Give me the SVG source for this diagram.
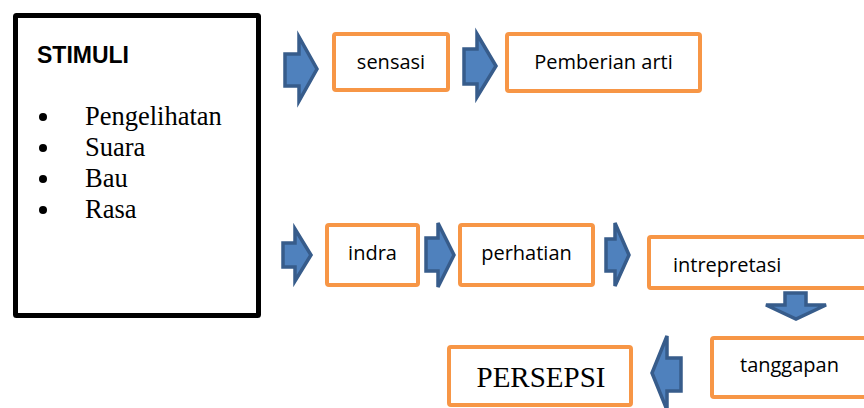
<svg xmlns="http://www.w3.org/2000/svg" width="864" height="408" viewBox="0 0 864 408">
<style>
.box{fill:#fff;stroke:#F79646;stroke-width:4}
.arr{fill:#4F81BD;stroke:#375C8B;stroke-width:3.5;stroke-linejoin:miter}
.sans{font-family:"Open Sans","Liberation Sans",sans-serif;font-size:20px;fill:#000}
.serif{font-family:"Liberation Serif","Times New Roman",serif;fill:#000}
</style>
<rect width="864" height="408" fill="#fff"/>
<g id="stimuli">
<rect x="15.5" y="15.5" width="243" height="300" fill="#fff" stroke="#000" stroke-width="5" rx="1"/>
<text x="37" y="63" font-family="Liberation Sans, Arial, sans-serif" font-weight="bold" font-size="23">STIMULI</text>
<g class="serif" font-size="26.5">
<circle cx="43" cy="117" r="4"/><text x="85" y="125">Pengelihatan</text>
<circle cx="43" cy="148" r="4"/><text x="85" y="156">Suara</text>
<circle cx="43" cy="179" r="4"/><text x="85" y="187">Bau</text>
<circle cx="43" cy="210" r="4"/><text x="85" y="218">Rasa</text>
</g>
</g>
<g id="sensasi"><rect class="box" x="334" y="34" width="114" height="56" rx="2"/><text class="sans" x="391" y="69" text-anchor="middle">sensasi</text></g>
<g id="pemberian-arti"><rect class="box" x="507" y="34" width="193" height="57" rx="2"/><text class="sans" x="603.5" y="69" text-anchor="middle">Pemberian arti</text></g>
<g id="indra"><rect class="box" x="327" y="225" width="91" height="60" rx="2"/><text class="sans" x="372.5" y="260" text-anchor="middle">indra</text></g>
<g id="perhatian"><rect class="box" x="460" y="225" width="133" height="60" rx="2"/><text class="sans" x="526.5" y="260" text-anchor="middle">perhatian</text></g>
<g id="intrepretasi"><rect class="box" x="649" y="237" width="230" height="51" rx="2"/><text class="sans" x="673" y="272">intrepretasi</text></g>
<g id="tanggapan"><rect class="box" x="712" y="338" width="170" height="59" rx="2"/><text class="sans" x="740" y="372">tanggapan</text></g>
<g id="persepsi"><rect class="box" x="449" y="347" width="182" height="58" rx="2"/><text class="serif" x="541" y="387" font-size="29" text-anchor="middle">PERSEPSI</text></g>
<g id="connectors">
<polygon class="arr" points="285,54 299,54 299,37 317,69 299,101 299,86 285,86"/>
<polygon class="arr" points="464,49 477,49 477,34 496,66 477,97 477,84 464,84"/>
<polygon class="arr" points="283,243 295,243 295,229 311,255 295,281 295,267 283,267"/>
<polygon class="arr" points="426,238 438,238 438,223 454,255 438,287 438,271 426,271"/>
<polygon class="arr" points="606,239 615,239 615,223 629,255 615,286 615,271 606,271"/>
<polygon class="arr" points="785,293 806,293 806,305 826,305 796,319 766,305 785,305"/>
<polygon class="arr" points="681,358 667,358 667,336 652,373 667,410 667,391 681,391"/>
</g>
</svg>
